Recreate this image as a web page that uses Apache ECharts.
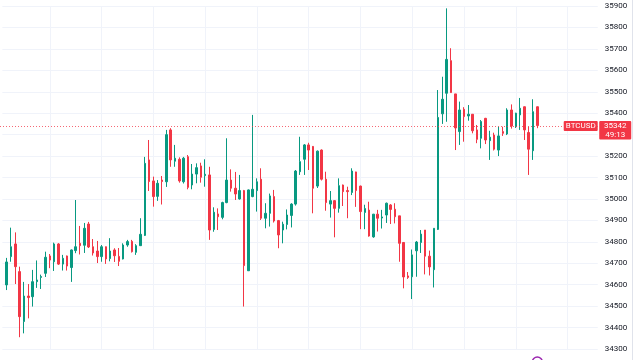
<!DOCTYPE html>
<html><head><meta charset="utf-8">
<script src="https://cdn.jsdelivr.net/npm/echarts@6/dist/echarts.min.js"></script>
<style>html,body{margin:0;padding:0;background:#fff}#c{width:640px;height:360px}</style>
</head><body><div id="c"></div>
<script>
const opens  = [34599,34731,34790,34661,34428,34547,34544,34614,34634,34653,34734,34707,34790,34696,34734,34680,34759,34793,34784,34883,34777,34757,34731,34777,34722,34762,34732,34720,34785,34802,34751,34782,34830,35182,35084,35012,35088,35080,35322,35176,35185,35080,35197,35065,35116,35154,35109,35112,34858,34930,34914,34983,35088,35050,35000,35039,34665,35011,35039,35092,34910,34933,35011,34899,34855,34881,34923,34976,35127,35185,35252,35245,35060,35228,35092,34976,34992,34956,35065,35039,35030,35126,35060,34937,34948,34823,34929,34911,34925,34972,34952,34921,34797,34641,34637,34758,34797,34855,34733,34670,34858,35397,35493,35645,35490,35314,35418,35387,35395,35322,35283,35376,35272,35298,35228,35314,35303,35415,35337,35392,35430,35310,35225,35430];
const closes = [34706,34777,34684,34451,34547,34540,34614,34622,34638,34728,34715,34790,34696,34723,34687,34762,34777,34782,34863,34776,34748,34731,34777,34720,34757,34735,34709,34785,34801,34754,34782,34835,35166,35081,35011,35073,35081,35300,35182,35190,35084,35190,35054,35116,35146,35101,35115,34855,34938,34917,34983,35088,35050,35023,35039,34689,35042,35045,35080,34910,34933,35014,34897,34832,34882,34925,34976,35130,35174,35252,35228,35050,35223,35092,34983,34992,34956,35062,35034,35034,35130,35039,34941,34955,34827,34929,34910,34916,34980,34951,34917,34793,34636,34634,34739,34799,34836,34733,34683,34863,35380,35465,35651,35496,35331,35415,35384,35395,35318,35278,35361,35275,35288,35232,35294,35306,35415,35340,35400,35423,35322,35232,35407,35342];
const lows   = [34575,34707,34603,34355,34373,34443,34498,34585,34580,34636,34677,34664,34692,34666,34666,34613,34747,34741,34748,34771,34736,34701,34707,34697,34709,34706,34687,34718,34777,34750,34739,34781,34827,35037,34964,34991,34974,35056,35150,35150,35076,35072,35045,35045,35073,35076,35057,34809,34847,34855,34905,34980,35034,34995,34997,34498,34664,35008,34941,34902,34863,34871,34890,34770,34793,34858,34867,34969,35112,35112,35135,34933,35051,35086,34945,34913,34821,34936,34967,34910,35018,34963,34859,34859,34824,34819,34848,34862,34888,34883,34886,34707,34583,34627,34533,34637,34748,34648,34643,34587,34855,35350,35360,35495,35228,35252,35267,35365,35306,35260,35236,35256,35182,35226,35200,35294,35298,35328,35331,35322,35275,35112,35182,35330];
const highs  = [34725,34866,34844,34684,34613,34603,34669,34713,34647,34754,34743,34796,34794,34739,34736,34764,34995,34874,34888,34893,34813,34804,34785,34778,34817,34770,34771,34793,34809,34809,34789,34910,35196,35275,35104,35088,35107,35322,35330,35252,35194,35196,35205,35163,35166,35169,35185,35150,34961,34956,34987,35283,35138,35126,35112,35042,35044,35392,35096,35143,34980,35025,35042,34902,34894,34951,34980,35135,35290,35256,35262,35247,35226,35231,35127,35037,34995,35096,35067,35057,35143,35127,35062,34973,34987,34930,34949,34949,34983,34976,34980,34921,34798,34659,34764,34804,34855,34855,34759,34863,35508,35570,35889,35703,35490,35454,35428,35438,35396,35345,35368,35378,35318,35309,35337,35337,35423,35441,35402,35471,35431,35337,35465,35431];
const symbolName = 'BTCUSD';
const countdown = '49:13';
const yMin = 34300, yMax = 35900, yStep = 100;
const leadPad = 1, trailPad = 14;

const UP = '#089981', DOWN = '#f23645';
const n = opens.length;
const cats = [];
for (let i = 0; i < leadPad + n + trailPad; i++) cats.push(String(i));
const candles = [];
for (let i = 0; i < leadPad; i++) candles.push(['-','-','-','-']);
for (let i = 0; i < n; i++) candles.push([opens[i], closes[i], lows[i], highs[i]]);
for (let i = 0; i < trailPad; i++) candles.push(['-','-','-','-']);

const step = 4.314;
const gridLeft = 2.39;
const gridWidth = (cats.length - 1) * step;

const chart = echarts.init(document.getElementById('c'), null, {renderer: 'canvas'});
const lastClose = closes[n - 1];
chart.setOption({
  animation: false,
  backgroundColor: '#ffffff',
  grid: {left: gridLeft, right: 640 - gridLeft - gridWidth, top: 6, bottom: 11},
  xAxis: {
    type: 'category', data: cats, boundaryGap: false,
    axisLine: {show: false}, axisTick: {show: false}, axisLabel: {show: false},
    splitLine: {show: true, interval: function (idx) { return idx % 12 === 11; }, lineStyle: {color: '#f0f3fa', width: 1}}
  },
  yAxis: {
    type: 'value', position: 'right', min: yMin, max: yMax, interval: yStep,
    axisLine: {show: false}, axisTick: {show: false},
    axisLabel: {color: '#131722', fontSize: 8, fontFamily: 'Roboto', margin: 7, formatter: function (v) { return String(v); }},
    splitLine: {show: true, lineStyle: {color: '#f0f3fa', width: 1}}
  },
  series: [{
    type: 'candlestick',
    data: candles,
    barWidth: 2,
    clip: false,
    itemStyle: {color: UP, color0: DOWN, borderColor: UP, borderColor0: DOWN, borderWidth: 1}
  }]
});

const yP = chart.convertToPixel({yAxisIndex: 0}, lastClose);
const yLine = Math.round(yP) + 0.5;
const xLast = chart.convertToPixel({xAxisIndex: 0}, leadPad + n - 1);
const gRight = gridLeft + gridWidth;
chart.setOption({
  graphic: [
    {type: 'line', z: 50, shape: {x1: 632.5, y1: 0, x2: 632.5, y2: 360}, style: {stroke: '#e0e3eb', lineWidth: 1}},
    {type: 'line', z: 40, shape: {x1: 0, y1: yLine, x2: gRight, y2: yLine}, style: {stroke: '#f23645', lineWidth: 1, lineDash: [1, 2], opacity: 0.75}},
    {type: 'rect', z: 100, shape: {x: gRight - 34, y: yP - 4.5, width: 34, height: 10, r: 1}, style: {fill: DOWN}},
    {type: 'text', z: 101, x: gRight - 17, y: yP + 0.5, style: {text: symbolName, fill: '#fff', font: '8px Roboto', textAlign: 'center', textVerticalAlign: 'middle'}},
    {type: 'rect', z: 100, shape: {x: gRight + 1.5, y: yP - 4.5, width: 32, height: 18.5, r: 1}, style: {fill: DOWN}},
    {type: 'text', z: 101, x: gRight + 17.5, y: yP + 0.5, style: {text: String(lastClose), fill: '#fff', font: '8px Roboto', textAlign: 'center', textVerticalAlign: 'middle'}},
    {type: 'text', z: 101, x: gRight + 17.5, y: yP + 9, style: {text: countdown, fill: '#fff', font: '8px Roboto', textAlign: 'center', textVerticalAlign: 'middle'}},
    {type: 'circle', z: 100, shape: {cx: xLast, cy: 362, r: 5}, style: {fill: '#fff', stroke: '#9c27b0', lineWidth: 1.5}}
  ]
});
</script>
</body></html>
